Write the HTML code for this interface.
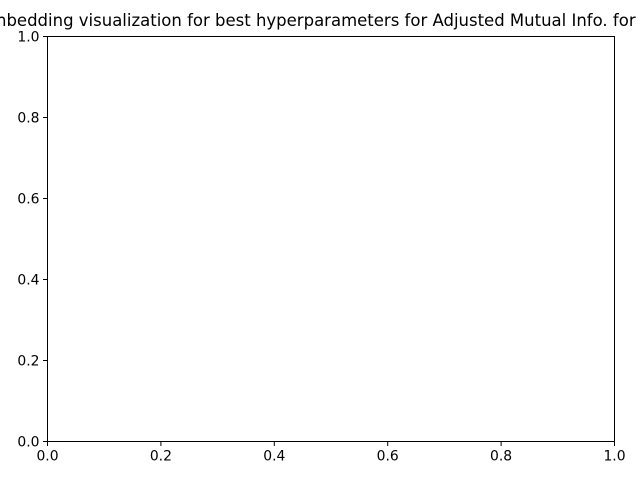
<!DOCTYPE html>
<html><head><meta charset="utf-8"><style>
html,body{margin:0;padding:0;background:#fff;width:640px;height:480px;overflow:hidden}
svg text{font-family:"DejaVu Sans","Liberation Sans",sans-serif;fill:#000}
</style></head><body>
<svg id="chart" width="640" height="480" xmlns="http://www.w3.org/2000/svg">
<text x="-4" y="26" font-size="16.5">nbedding visualization for best hyperparameters for Adjusted Mutual Info. for</text>
<rect x="47.5" y="36.5" width="567" height="405" fill="none" stroke="#000" stroke-width="1"/>
<g id="xticks"></g>
<g id="yticks"></g>
</svg>
<script>
const xTicks=[0,0.2,0.4,0.6,0.8,1.0];
const yTicks=[0,0.2,0.4,0.6,0.8,1.0];
const x0=47.5,x1=614.5,y0=441.5,y1=36.5;
const sx=v=>x0+(x1-x0)*v, sy=v=>y0+(y1-y0)*v;
const NS="http://www.w3.org/2000/svg";
const gx=document.getElementById('xticks'),gy=document.getElementById('yticks');
xTicks.forEach(v=>{
  const l=document.createElementNS(NS,'line');
  
  
  l.setAttribute('x1',sx(v));l.setAttribute('x2',sx(v));l.setAttribute('y1',y0);l.setAttribute('y2',y0+4.5);l.setAttribute('stroke','#000');
  gx.appendChild(l);
  const t=document.createElementNS(NS,'text');
  
  
  t.setAttribute('x',sx(v));t.setAttribute('y',y0+19);t.setAttribute('text-anchor','middle');t.setAttribute('font-size','13.9');
  t.textContent=v.toFixed(1);gx.appendChild(t);
});
yTicks.forEach(v=>{
  const l=document.createElementNS(NS,'line');
  
  
  l.setAttribute('x1',x0-4.5);l.setAttribute('x2',x0);l.setAttribute('y1',sy(v));l.setAttribute('y2',sy(v));l.setAttribute('stroke','#000');
  gy.appendChild(l);
  const t=document.createElementNS(NS,'text');
  
  
  t.setAttribute('x',x0-8);t.setAttribute('y',sy(v)+5);t.setAttribute('text-anchor','end');t.setAttribute('font-size','13.9');
  t.textContent=v.toFixed(1);gy.appendChild(t);
});
</script>
</body></html>
